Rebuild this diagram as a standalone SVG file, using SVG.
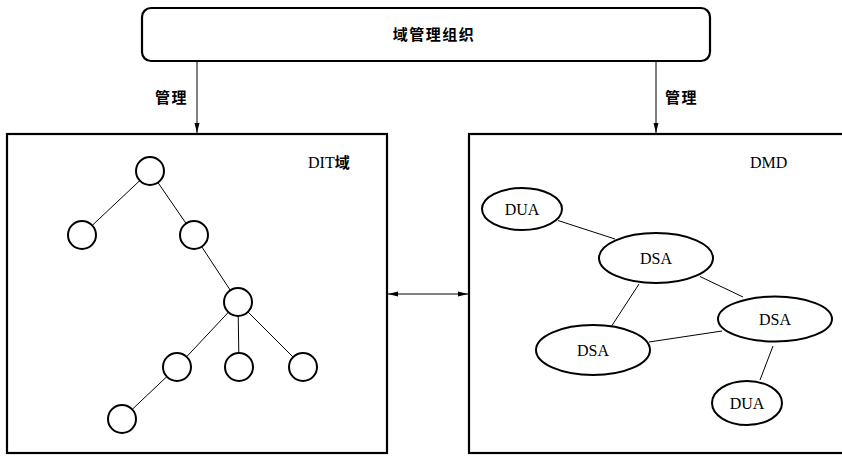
<svg xmlns="http://www.w3.org/2000/svg" width="842" height="456" viewBox="0 0 842 456">
<defs>
<marker id="ah" viewBox="0 0 10 6" refX="10" refY="3" markerWidth="10" markerHeight="6" markerUnits="userSpaceOnUse" orient="auto-start-reverse">
<path d="M0,0.5 L10,3 L0,5.5 Z" fill="#000"/>
</marker>
</defs>
<style>
.frame{fill:#fff;stroke:#000;stroke-width:2.2}
.nd{fill:#fff;stroke:#000;stroke-width:2}
.ln{stroke:#000;stroke-width:1;fill:none}
.lbl{font-family:"Liberation Serif","Noto Sans CJK SC",serif;font-size:16px;fill:#000}
.cjk{font-family:"Noto Sans CJK SC",sans-serif;font-weight:bold;font-size:15px;letter-spacing:1.5px;fill:#000}
</style>
<rect width="842" height="456" fill="#fff"/>
<g id="org">
<rect x="142" y="8" width="568" height="53" rx="9" class="frame"/>
<text x="434" y="40" text-anchor="middle" class="cjk">域管理组织</text>
</g>
<g id="dit-domain">
<rect x="7" y="134" width="380" height="319" class="frame"/>
<text x="308" y="168" class="lbl">DIT<tspan font-family="Noto Sans CJK SC,sans-serif" font-weight="bold" font-size="15">域</tspan></text>
</g>
<g id="dmd">
<rect x="469" y="134" width="390" height="319" class="frame"/>
<text x="750" y="168" class="lbl">DMD</text>
</g>
<g id="connectors">
<line x1="197" y1="62" x2="197" y2="133" class="ln" marker-end="url(#ah)"/>
<line x1="656" y1="62" x2="656" y2="133" class="ln" marker-end="url(#ah)"/>
<line x1="388" y1="294" x2="468" y2="294" class="ln" stroke-width="1.5" marker-start="url(#ah)" marker-end="url(#ah)"/>
<text x="155" y="103" class="cjk">管理</text>
<text x="665" y="103" class="cjk">管理</text>
<line x1="150" y1="171" x2="82" y2="235" class="ln"/>
<line x1="150" y1="171" x2="194" y2="235" class="ln"/>
<line x1="194" y1="235" x2="238" y2="302" class="ln"/>
<line x1="238" y1="302" x2="177" y2="367" class="ln"/>
<line x1="238" y1="302" x2="239" y2="367" class="ln"/>
<line x1="238" y1="302" x2="303" y2="367" class="ln"/>
<line x1="177" y1="367" x2="122" y2="419" class="ln"/>
<line x1="558" y1="220.5" x2="615" y2="239" class="ln"/>
<line x1="700" y1="276.5" x2="743" y2="297" class="ln"/>
<line x1="639" y1="284" x2="611" y2="327" class="ln"/>
<line x1="649" y1="342" x2="722" y2="331" class="ln"/>
<line x1="773" y1="346" x2="760" y2="380" class="ln"/>
</g>
<g id="t-root"><circle cx="150" cy="171" r="14" class="nd"/></g>
<g id="t-l1a"><circle cx="82" cy="235" r="14" class="nd"/></g>
<g id="t-l1b"><circle cx="194" cy="235" r="14" class="nd"/></g>
<g id="t-l2"><circle cx="238" cy="302" r="14" class="nd"/></g>
<g id="t-l3a"><circle cx="177" cy="367" r="14" class="nd"/></g>
<g id="t-l3b"><circle cx="239" cy="367" r="14" class="nd"/></g>
<g id="t-l3c"><circle cx="303" cy="367" r="14" class="nd"/></g>
<g id="t-l4"><circle cx="122" cy="419" r="14" class="nd"/></g>
<g id="dua1"><ellipse cx="522" cy="209" rx="40" ry="21" class="nd"/><text x="522" y="215" text-anchor="middle" class="lbl">DUA</text></g>
<g id="dsa1"><ellipse cx="656" cy="258" rx="57" ry="25" class="nd"/><text x="656" y="264" text-anchor="middle" class="lbl">DSA</text></g>
<g id="dsa2"><ellipse cx="775" cy="319" rx="57" ry="22.5" class="nd"/><text x="775" y="325" text-anchor="middle" class="lbl">DSA</text></g>
<g id="dsa3"><ellipse cx="593" cy="350" rx="57" ry="25" class="nd"/><text x="593" y="356" text-anchor="middle" class="lbl">DSA</text></g>
<g id="dua2"><ellipse cx="747" cy="403" rx="35" ry="22" class="nd"/><text x="747" y="409" text-anchor="middle" class="lbl">DUA</text></g>
</svg>
